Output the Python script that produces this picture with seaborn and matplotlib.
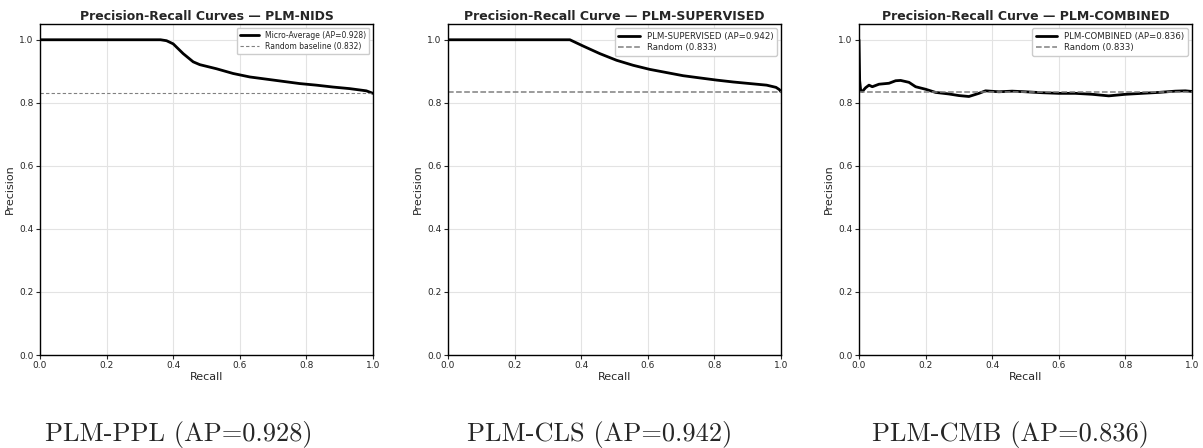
import numpy as np
import matplotlib
matplotlib.use("Agg")
import matplotlib.pyplot as plt
import seaborn as sns

# PR curves
ppl_recall = [0.0, 0.10, 0.20, 0.30, 0.362, 0.38, 0.40, 0.43, 0.46, 0.48, 0.53, 0.58, 0.63,
              0.68, 0.73, 0.78, 0.83, 0.88, 0.93, 0.98, 1.0]
ppl_prec = [1.0, 1.0, 1.0, 1.0, 1.0, 0.997, 0.987, 0.956, 0.930, 0.921, 0.908, 0.893, 0.882,
            0.875, 0.868, 0.861, 0.856, 0.850, 0.845, 0.838, 0.830]

cls_recall = [0.0, 0.10, 0.20, 0.30, 0.366, 0.406, 0.456, 0.506, 0.556, 0.606, 0.656, 0.706,
              0.756, 0.807, 0.857, 0.907, 0.957, 0.985, 0.995, 1.0]
cls_prec = [1.0, 1.0, 1.0, 1.0, 1.0, 0.980, 0.956, 0.935, 0.919, 0.906, 0.896, 0.886,
            0.879, 0.872, 0.866, 0.861, 0.856, 0.849, 0.842, 0.835]

cmb_recall = [0.0, 0.002, 0.005, 0.01, 0.02, 0.03, 0.04, 0.06, 0.09, 0.11, 0.125, 0.15, 0.17,
              0.20, 0.23, 0.27, 0.30, 0.33, 0.36, 0.38, 0.42, 0.46, 0.50, 0.55, 0.60, 0.65,
              0.70, 0.75, 0.80, 0.85, 0.90, 0.95, 0.98, 1.0]
cmb_prec = [1.0, 0.87, 0.84, 0.836, 0.848, 0.856, 0.851, 0.859, 0.862, 0.870, 0.871, 0.865,
            0.851, 0.843, 0.833, 0.828, 0.823, 0.820, 0.830, 0.838, 0.835, 0.837, 0.835,
            0.832, 0.830, 0.830, 0.827, 0.822, 0.827, 0.830, 0.833, 0.837, 0.838, 0.836]

titles = ["Precision-Recall Curves — PLM-NIDS",
          "Precision-Recall Curve — PLM-SUPERVISED",
          "Precision-Recall Curve — PLM-COMBINED"]
curve_labels = ["Micro-Average (AP=0.928)", "PLM-SUPERVISED (AP=0.942)", "PLM-COMBINED (AP=0.836)"]
baselines = [0.832, 0.833, 0.833]
baseline_labels = ["Random baseline (0.832)", "Random (0.833)", "Random (0.833)"]
captions = ["PLM-PPL (AP=0.928)", "PLM-CLS (AP=0.942)", "PLM-CMB (AP=0.836)"]

curves = [(ppl_recall, ppl_prec), (cls_recall, cls_prec), (cmb_recall, cmb_prec)]

sns.set_style("ticks")
fig = plt.figure(figsize=(12.03, 4.48), dpi=100)

lefts = [40, 448, 859]
cap_x = [179, 600, 1010]
for i in range(3):
    ax = fig.add_axes([lefts[i] / 1203, 93 / 448, 333 / 1203, 331 / 448])
    rec, prec = curves[i]
    sns.lineplot(x=rec, y=prec, ax=ax, color="black", linewidth=2,
                 label=curve_labels[i], estimator=None, sort=False)
    if i == 0:
        ax.axhline(baselines[i], color="gray", linestyle="--", linewidth=0.8,
                   dashes=(3, 2), label=baseline_labels[i])
    else:
        ax.axhline(baselines[i], color="gray", linestyle="--", linewidth=1.1,
                   label=baseline_labels[i])
    ax.set_xlim(0, 1)
    ax.set_ylim(0, 1.05)
    ax.set_xticks([0, 0.2, 0.4, 0.6, 0.8, 1.0])
    ax.set_yticks([0, 0.2, 0.4, 0.6, 0.8, 1.0])
    ax.tick_params(labelsize=6.5, length=3, width=0.8, pad=1.5)
    ax.grid(True, color="#e3e3e3", linewidth=0.8)
    for s in ax.spines.values():
        s.set_color("black")
        s.set_linewidth(1.0)
    ax.set_title(titles[i], fontsize=9, fontweight="bold", pad=3)
    ax.set_xlabel("Recall", fontsize=8, labelpad=1)
    ax.set_ylabel("Precision", fontsize=8, labelpad=3)
    ax.legend(loc="upper right", fontsize=5.5 if i == 0 else 6.2, frameon=True,
              framealpha=1, edgecolor="#cccccc", fancybox=True, handlelength=2.5,
              borderpad=0.4, labelspacing=0.3)
    fig.text(cap_x[i] / 1203, 1 - 434 / 448, captions[i], fontsize=19,
             family="cmr10", ha="center", va="center")

fig.savefig("out.png", dpi=100)
